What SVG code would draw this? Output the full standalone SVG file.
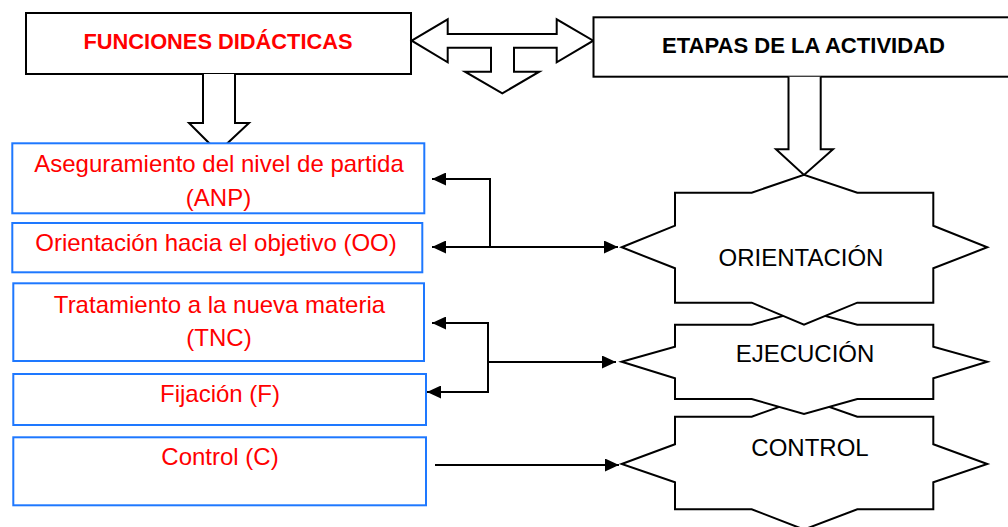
<svg xmlns="http://www.w3.org/2000/svg" width="1008" height="527" viewBox="0 0 1008 527">
<style>
.bx{fill:#fff;stroke:#000;stroke-width:2}
.bl{fill:#fff;stroke:#1E78FF;stroke-width:2}
.st{fill:#fff;stroke:#000;stroke-width:2;stroke-linejoin:miter}
.ttl{font-family:"Liberation Sans",Arial,sans-serif;font-weight:bold;font-size:22.5px;text-anchor:middle}
.rt{font-family:"Liberation Sans",Arial,sans-serif;font-size:24px;fill:#FF0000;text-anchor:middle}
.bt{font-family:"Liberation Sans",Arial,sans-serif;font-size:24px;fill:#000;text-anchor:middle}
.cn{fill:none;stroke:#000;stroke-width:2}
</style>
<defs>
<marker id="ah" markerUnits="userSpaceOnUse" markerWidth="14" markerHeight="13" refX="14" refY="6.5" orient="auto">
<path d="M0,0 L14,6.5 L0,13 z" fill="#000"/>
</marker>
</defs>

<g id="funciones">
<rect class="bx" x="26" y="13" width="385" height="61"/>
<text class="ttl" x="218" y="48.5" fill="#FF0000" textLength="269" lengthAdjust="spacingAndGlyphs">FUNCIONES DIDÁCTICAS</text>
</g>
<g id="arrow-funciones">
<path class="bx" d="M203,74 V123 H189 L218,152 L249,123 H235 V74"/>
</g>

<g id="double-arrow">
<path class="bx" d="M411.7,40.7 L447.7,19.3 V34 H556.7 V19.3 L593.3,40.7 L556.7,62.3 V47.7 H514 V71.7 H539.3 L502.3,93.3 L465,71.7 H491 V47.7 H447.7 V62.3 Z"/>
</g>

<g id="etapas">
<rect class="bx" x="593.5" y="17.3" width="430" height="59.4"/>
<text class="ttl" x="803.5" y="52.5" fill="#000" textLength="283" lengthAdjust="spacingAndGlyphs">ETAPAS DE LA ACTIVIDAD</text>
</g>
<g id="arrow-etapas">
<path class="bx" d="M788.5,76.7 V149.3 H776 L804,175 L833,149.3 H820.7 V76.7"/>
</g>

<g id="anp">
<rect class="bl" x="12.3" y="143.3" width="412" height="70"/>
<text class="rt" x="219" y="172.3">Aseguramiento del nivel de partida</text>
<text class="rt" x="218.5" y="206">(ANP)</text>
</g>
<g id="oo">
<rect class="bl" x="12.3" y="223" width="410" height="49.3"/>
<text class="rt" x="216" y="251">Orientación hacia el objetivo (OO)</text>
</g>
<g id="tnc">
<rect class="bl" x="13.3" y="283.3" width="410.7" height="77.7"/>
<text class="rt" x="219.5" y="312.7">Tratamiento a la nueva materia</text>
<text class="rt" x="219" y="345.7">(TNC)</text>
</g>
<g id="fijacion">
<rect class="bl" x="13.3" y="374" width="412.7" height="51"/>
<text class="rt" x="220" y="401.7">Fijación (F)</text>
</g>
<g id="control-c">
<rect class="bl" x="13.3" y="437.3" width="412.7" height="68"/>
<text class="rt" x="220" y="465">Control (C)</text>
</g>

<g id="control">
<path class="st" d="M621.7,464 L675,444.3 V416.7 H751.7 L804,398 L857.3,416.7 H933.3 V444.3 L987.3,464 L933.3,482.3 V509.3 H857.3 L804,529.5 L751.7,509.3 H675 V482.3 Z"/>
<text class="bt" x="810" y="455.7">CONTROL</text>
</g>
<g id="ejecucion">
<path class="st" d="M621.7,361.7 L675,346.7 V324.7 H751.7 L804,310 L857.3,324.7 H933.3 V346.7 L987.3,361.7 L933.3,378.3 V399 H857.3 L804,414 L751.7,399 H675 V378.3 Z"/>
<text class="bt" x="805" y="361.7">EJECUCIÓN</text>
</g>
<g id="orientacion">
<path class="st" d="M621.7,247.3 L675,225.7 V192.7 H751.7 L804,174.7 L857.3,192.7 H933.3 V225.7 L987.3,247.3 L933.3,268.3 V302.7 H857.3 L804,324.7 L751.7,302.7 H675 V268.3 Z"/>
<text class="bt" x="801" y="266">ORIENTACIÓN</text>
</g>

<g id="connectors">
<path class="cn" d="M490,179 H432" marker-end="url(#ah)"/>
<path class="cn" d="M490,178 V248"/>
<path class="cn" d="M490,247 H432" marker-end="url(#ah)"/>
<path class="cn" d="M490,247 H618" marker-end="url(#ah)"/>
<path class="cn" d="M488,323 H432" marker-end="url(#ah)"/>
<path class="cn" d="M488,322 V393"/>
<path class="cn" d="M488,392 H427" marker-end="url(#ah)"/>
<path class="cn" d="M488,362 H616" marker-end="url(#ah)"/>
<path class="cn" d="M435,465 H619" marker-end="url(#ah)"/>
</g>
</svg>
